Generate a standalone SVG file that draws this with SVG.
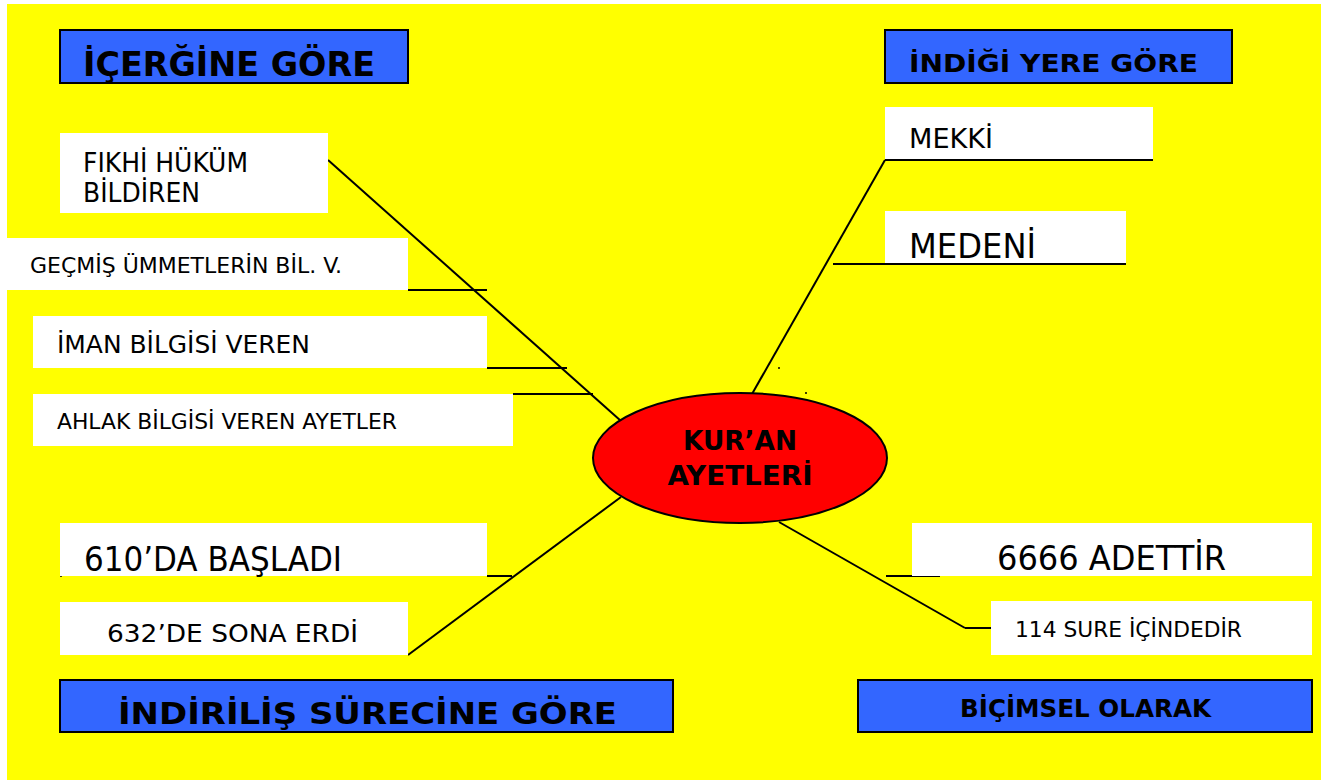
<svg xmlns="http://www.w3.org/2000/svg" width="1321" height="780" viewBox="0 0 1321 780">
<defs>
<style>
.bg{fill:#FFFF00}
.hdr{fill:#3366FF;stroke:#000;stroke-width:2}
.box{fill:#FFFFFF}
.t{font-family:"DejaVu Sans Condensed","DejaVu Sans",sans-serif;font-stretch:condensed;fill:#000}
.b{font-weight:bold}
.ln{stroke:#000;stroke-width:2;fill:none}
</style>
</defs>
<rect x="0" y="0" width="1321" height="780" fill="#FFFFFF"/>
<rect class="bg" x="7" y="4" width="1314" height="776"/>

<g id="connectors">
<line class="ln" x1="328" y1="160" x2="621" y2="421"/>
<line class="ln" x1="408" y1="290" x2="487" y2="290"/>
<line class="ln" x1="487" y1="368" x2="567" y2="368"/>
<line class="ln" x1="513" y1="394" x2="593" y2="394"/>
<line class="ln" x1="885" y1="160" x2="1153" y2="160"/>
<line class="ln" x1="885" y1="160" x2="752" y2="394"/>
<line class="ln" x1="833" y1="264" x2="1126" y2="264"/>
<line class="ln" x1="408" y1="655" x2="621" y2="497"/>
<line class="ln" x1="487" y1="576" x2="512" y2="576"/>
<line class="ln" x1="779" y1="522" x2="965" y2="628"/>
<line class="ln" x1="965" y1="628" x2="991" y2="628"/>
<line class="ln" x1="886" y1="576" x2="940" y2="576"/>
<circle cx="779" cy="368" r="1" fill="#000"/>
<circle cx="806" cy="393" r="1" fill="#000"/>
<circle cx="61" cy="576" r="1" fill="#000"/>
</g>

<g id="hdr-icerigine">
<rect class="hdr" x="60" y="30" width="348" height="53"/>
<text class="t b" x="83" y="76" font-size="33" textLength="292" lengthAdjust="spacingAndGlyphs">İÇERĞİNE GÖRE</text>
</g>
<g id="hdr-indigi">
<rect class="hdr" x="885" y="30" width="347" height="53"/>
<text class="t b" x="909" y="72" font-size="25" textLength="289" lengthAdjust="spacingAndGlyphs">İNDİĞİ YERE GÖRE</text>
</g>
<g id="hdr-indirilis">
<rect class="hdr" x="60" y="680" width="613" height="52"/>
<text class="t b" x="118" y="724" font-size="30" textLength="499" lengthAdjust="spacingAndGlyphs">İNDİRİLİŞ SÜRECİNE GÖRE</text>
</g>
<g id="hdr-bicimsel">
<rect class="hdr" x="858" y="680" width="454" height="52"/>
<text class="t b" x="960" y="717" font-size="24" textLength="251" lengthAdjust="spacingAndGlyphs">BİÇİMSEL OLARAK</text>
</g>

<g id="n-fikhi">
<rect class="box" x="60" y="133" width="268" height="80"/>
<text class="t" x="83" y="172" font-size="26" textLength="165" lengthAdjust="spacingAndGlyphs">FIKHİ HÜKÜM</text>
<text class="t" x="83" y="202" font-size="26" textLength="117" lengthAdjust="spacingAndGlyphs">BİLDİREN</text>
</g>
<g id="n-gecmis">
<rect class="box" x="7" y="238" width="401" height="52"/>
<text class="t" x="30" y="273" font-size="22" textLength="312" lengthAdjust="spacingAndGlyphs">GEÇMİŞ ÜMMETLERİN BİL. V.</text>
</g>
<g id="n-iman">
<rect class="box" x="33" y="316" width="454" height="52"/>
<text class="t" x="57" y="353" font-size="24" textLength="253" lengthAdjust="spacingAndGlyphs">İMAN BİLGİSİ VEREN</text>
</g>
<g id="n-ahlak">
<rect class="box" x="33" y="394" width="480" height="52"/>
<text class="t" x="57" y="429" font-size="22" textLength="340" lengthAdjust="spacingAndGlyphs">AHLAK BİLGİSİ VEREN AYETLER</text>
</g>
<g id="n-mekki">
<rect class="box" x="885" y="107" width="268" height="52"/>
<text class="t" x="909" y="148" font-size="27" textLength="84" lengthAdjust="spacingAndGlyphs">MEKKİ</text>
</g>
<g id="n-medeni">
<rect class="box" x="885" y="211" width="241" height="52"/>
<text class="t" x="909" y="258" font-size="34" textLength="127" lengthAdjust="spacingAndGlyphs">MEDENİ</text>
</g>
<g id="n-610">
<rect class="box" x="60" y="523" width="427" height="53"/>
<text class="t" x="84" y="571" font-size="33" textLength="258" lengthAdjust="spacingAndGlyphs">610’DA BAŞLADI</text>
</g>
<g id="n-632">
<rect class="box" x="60" y="602" width="348" height="53"/>
<text class="t" x="107" y="642" font-size="25" textLength="251" lengthAdjust="spacingAndGlyphs">632’DE SONA ERDİ</text>
</g>
<g id="n-6666">
<rect class="box" x="912" y="523" width="400" height="53"/>
<text class="t" x="997" y="570" font-size="34" textLength="229" lengthAdjust="spacingAndGlyphs">6666 ADETTİR</text>
</g>
<g id="n-114">
<rect class="box" x="991" y="601" width="321" height="54"/>
<text class="t" x="1015" y="637" font-size="22" textLength="227" lengthAdjust="spacingAndGlyphs">114 SURE İÇİNDEDİR</text>
</g>

<g id="center">
<ellipse cx="740" cy="458" rx="147" ry="65" fill="#FF0000" stroke="#000" stroke-width="2"/>
<text class="t b" x="740" y="450" font-size="27" text-anchor="middle" textLength="114" lengthAdjust="spacingAndGlyphs">KUR’AN</text>
<text class="t b" x="740" y="485" font-size="27" text-anchor="middle" textLength="145" lengthAdjust="spacingAndGlyphs">AYETLERİ</text>
</g>
</svg>
